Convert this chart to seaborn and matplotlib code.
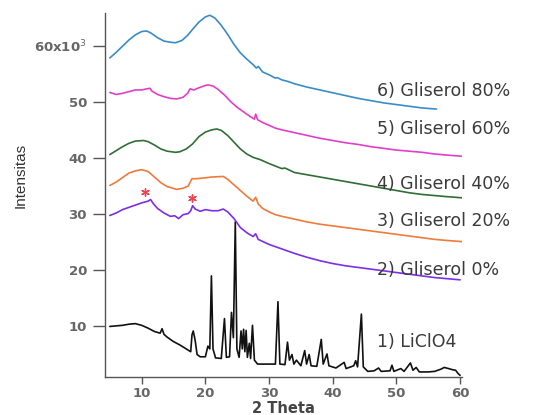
import matplotlib
matplotlib.use("Agg")
import matplotlib.pyplot as plt
import seaborn as sns
import pandas as pd

sns.set_theme(style="ticks")
plt.rcParams['font.family'] = ['DejaVu Sans']

# ---- data (2 theta in degrees, intensity in thousands) ----
x_g80 = [5, 6, 7, 8, 9, 10, 10.8, 11.5, 12.5, 13.5, 14.5, 15.3, 16.3, 17.2, 18, 19, 20, 20.7, 21.5, 22.5,
         23.5, 24.5, 25.5, 26.5, 27.5, 28, 28.3, 29, 30, 31, 31.3, 32, 33, 34, 35, 36, 38, 40, 42, 44, 46,
         48, 50, 52, 54, 56.3]
y_g80 = [57.8, 58.8, 59.9, 61.0, 61.9, 62.5, 62.6, 62.2, 61.4, 60.8, 60.6, 60.5, 60.9, 61.8, 62.9, 64.2,
         65.1, 65.4, 64.9, 63.6, 62.0, 60.2, 58.7, 57.6, 56.6, 56.0, 56.3, 55.3, 54.8, 54.2, 54.3, 53.9,
         53.6, 53.2, 52.9, 52.6, 52.1, 51.6, 51.1, 50.6, 50.2, 49.8, 49.5, 49.2, 48.9, 48.7]

x_g60 = [5, 6, 7, 8, 9, 10, 10.8, 11.3, 11.6, 12.5, 13.5, 14.5, 15.5, 16.5, 17.2, 17.6, 18.2, 19, 20, 20.4,
         21.2, 22, 23, 24, 25, 26, 27, 27.7, 27.9, 28.2, 29, 30, 31, 32, 34, 36, 38, 40, 42, 44, 46, 48,
         50, 52, 54, 56, 58, 60.3]
y_g60 = [51.65, 51.3, 51.5, 51.8, 52.1, 52.1, 52.3, 52.4, 51.9, 51.3, 50.9, 50.6, 50.5, 50.8, 51.5, 52.3,
         52.1, 52.5, 52.9, 53.0, 52.8, 52.2, 51.2, 50.0, 49.0, 48.2, 47.4, 46.9, 47.8, 46.8, 46.3, 45.8,
         45.3, 45.0, 44.5, 44.0, 43.5, 43.1, 42.7, 42.4, 42.0, 41.7, 41.4, 41.2, 41.0, 40.7, 40.5, 40.3]

x_g40 = [5, 6, 7, 8, 9, 10.3, 11, 12, 13, 14, 15.3, 16, 17, 18, 19, 20, 21, 21.8, 22.5, 23.5, 24.5, 25.5,
         26.5, 27.5, 28.6, 30, 32, 32.5, 34, 36, 38, 40, 42, 44, 46, 48, 50, 52, 54, 56, 58, 60.3]
y_g40 = [40.6, 41.3, 42.0, 42.6, 43.0, 43.1, 42.9, 42.3, 41.6, 41.2, 41.0, 41.1, 41.6, 42.5, 43.8, 44.6,
         45.0, 45.15, 44.9, 44.0, 42.8, 41.6, 40.7, 40.1, 39.7, 39.0, 38.1, 38.2, 37.4, 37.0, 36.6, 36.2,
         35.8, 35.4, 35.0, 34.6, 34.2, 33.8, 33.5, 33.3, 33.1, 32.9]

x_g20 = [5, 6, 7, 8, 9, 10, 11, 12, 13, 14, 15.5, 16.5, 17.3, 17.9, 18.5, 19.5, 21, 22.8, 23.5, 24.5, 25.5,
         26.5, 27.5, 27.9, 28.3, 29, 30, 31, 32, 34, 36, 38, 40, 42, 44, 46, 48, 50, 52, 54, 56, 58, 60.3]
y_g20 = [35.1, 35.7, 36.5, 37.3, 37.7, 37.9, 37.6, 36.6, 35.6, 34.9, 34.4, 34.6, 35.0, 36.3, 36.3, 36.4,
         36.6, 36.7, 36.2, 35.2, 34.2, 33.2, 32.3, 33.0, 31.8, 31.0, 30.4, 29.9, 29.6, 29.1, 28.6, 28.2,
         27.9, 27.6, 27.3, 27.0, 26.7, 26.4, 26.1, 25.8, 25.5, 25.3, 25.1]

x_g0 = [5, 6, 7, 8, 9, 10, 11, 11.4, 11.8, 12.5, 13.5, 14.5, 15.2, 15.8, 16.5, 17.3, 17.7, 18.0, 18.4, 19.2,
        20, 21, 22, 22.8, 23.5, 24.5, 25.5, 26.5, 27.5, 27.9, 28.3, 30, 32, 34, 36, 38, 40, 42, 44, 46, 48,
        50, 52, 54, 56, 58, 60]
y_g0 = [29.75, 30.2, 30.8, 31.2, 31.6, 32.0, 32.3, 32.6, 31.9, 31.0, 30.2, 29.6, 29.7, 29.2, 29.9, 30.1,
        30.6, 31.5, 30.9, 30.5, 30.8, 30.6, 30.6, 30.9, 30.4, 29.2, 27.6, 26.7, 26.0, 26.5, 25.5, 24.6,
        23.8, 23.0, 22.3, 21.7, 21.2, 20.8, 20.5, 20.2, 19.9, 19.6, 19.3, 19.0, 18.7, 18.5, 18.3]

x_li = [5, 6, 7, 8, 9, 10, 11, 12, 12.9, 13.2, 13.5, 14, 15, 16, 17, 17.7, 17.9, 18.1, 18.4, 18.7, 19.2, 20,
        20.4, 20.7, 20.95, 21.2, 21.6, 22.5, 23.0, 23.3, 23.8, 24.1, 24.4, 24.7, 24.95, 25.3, 25.6, 25.8,
        26.0, 26.2, 26.4, 26.6, 26.9, 27.1, 27.4, 27.7, 28.2, 30, 31.0, 31.4, 31.7, 32.5, 32.9, 33.2, 33.6,
        33.9, 34.3, 35, 35.6, 35.9, 36.3, 36.6, 37.5, 38.2, 38.5, 39.1, 39.4, 40.5, 41.8, 42.1, 43.3, 43.6,
        43.9, 44.5, 44.8, 45.5, 46.5, 47.2, 47.6, 49.0, 49.3, 49.6, 50.7, 51.2, 52.2, 52.6, 53.1, 53.6, 55,
        56, 57, 57.5, 58.2, 58.8, 59.3, 59.7, 60]
y_li = [10.0, 10.1, 10.2, 10.4, 10.5, 10.2, 9.7, 9.1, 8.8, 9.6, 8.6, 8.1, 7.3, 6.7, 6.0, 5.5, 8.5, 9.2, 7.5,
        5.0, 4.6, 4.6, 6.5, 6.0, 19.0, 6.0, 4.4, 4.3, 11.4, 4.5, 4.6, 12.5, 8.0, 28.6, 6.0, 4.5, 9.2, 6.0,
        9.5, 5.5, 9.3, 4.5, 7.0, 4.3, 10.2, 4.0, 3.3, 3.3, 3.3, 14.4, 3.3, 3.2, 7.2, 4.0, 5.0, 3.3, 4.0,
        3.0, 5.7, 3.3, 5.0, 3.0, 2.9, 7.7, 3.3, 5.1, 3.0, 2.6, 3.6, 2.5, 3.0, 3.9, 2.8, 12.2, 2.8, 2.0, 2.1,
        2.6, 2.0, 2.1, 3.1, 2.0, 2.5, 2.0, 3.5, 2.2, 2.7, 1.9, 1.9, 2.0, 2.4, 2.7, 2.5, 2.3, 2.2, 1.6, 1.3]

series_names = ["1) LiClO4", "2) Gliserol 0%", "3) Gliserol 20%", "4) Gliserol 40%",
                "5) Gliserol 60%", "6) Gliserol 80%"]
series_x = [x_li, x_g0, x_g20, x_g40, x_g60, x_g80]
series_y = [y_li, y_g0, y_g20, y_g40, y_g60, y_g80]
label_y = [7.2, 20.0, 28.7, 35.4, 45.2, 52.0]
star_x = [10.5, 17.9]
star_y = [33.9, 32.9]

colors = ["#111111", "#7b2fe8", "#f07a3c", "#2f6e34", "#e23fc9", "#3a8cc6"]

frames = []
for name, xs, ys in zip(series_names, series_x, series_y):
    frames.append(pd.DataFrame({"theta": xs, "I": ys, "sample": name}))
df = pd.concat(frames, ignore_index=True)

fig = plt.figure(figsize=(5.33, 4.15), dpi=100)
ax = fig.add_axes([105 / 533, 38 / 415, 357 / 533, 364 / 415])

sns.lineplot(data=df, x="theta", y="I", hue="sample", palette=dict(zip(series_names, colors)),
             sort=False, estimator=None, linewidth=1.2, legend=False, ax=ax)

for name, ly, c in zip(series_names, label_y, colors):
    ax.text(47.0, ly, name, fontsize=12.5, color="#3a3a3a", va="center", ha="left",
            family=["DejaVu Sans"])

ax.scatter(star_x, star_y, marker=(6, 2, 0), s=30, color="#ee4455", linewidths=1.0, zorder=5)

ax.set_xlim(4.24, 60.3)
ax.set_ylim(1.0, 65.8)
ax.set_xticks([10, 20, 30, 40, 50, 60])
ax.set_yticks([10, 20, 30, 40, 50, 60])
ax.set_yticklabels(["10", "20", "30", "40", "50", "60x10$^3$"])
sns.despine(ax=ax)
for s in ["left", "bottom"]:
    ax.spines[s].set_color("#555555")
    ax.spines[s].set_linewidth(1.0)
ax.tick_params(axis="both", direction="out", width=1.0, color="#555555",
               labelsize=9.5, labelcolor="#666666")
ax.tick_params(axis="y", length=9, pad=4)
ax.tick_params(axis="x", length=5, pad=2)
for lab in ax.get_xticklabels() + ax.get_yticklabels():
    lab.set_fontweight("bold")
ax.set_xlabel("2 Theta", fontsize=10.5, color="#444444", fontweight="bold", labelpad=1)
ax.set_ylabel("Intensitas", fontsize=11, color="#333333",
              family=["Liberation Sans Narrow", "Liberation Sans"])
ax.yaxis.set_label_coords(-0.216, 0.553)
ax.set_facecolor("white")
fig.patch.set_facecolor("white")

fig.savefig("out.png", dpi=100, facecolor="white")
